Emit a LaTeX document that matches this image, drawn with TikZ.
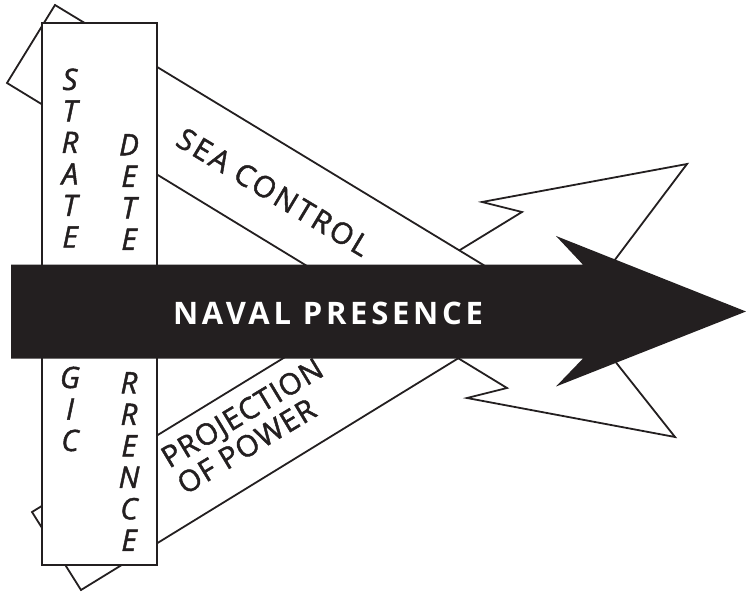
\documentclass[tikz,border=0pt]{standalone}
\usepackage{fontspec}
\setmainfont{Open Sans}
\newfontfamily\labelfont{Open Sans}[FakeBold=1.5]
\definecolor{inkblack}{HTML}{231F20}

\begin{document}
\begin{tikzpicture}[x=1pt,y=-1pt,
  band/.style={draw=inkblack,line width=1.8pt,fill=white,line join=miter},
  bandtext/.style={text=inkblack,font=\labelfont\fontsize{29.5}{31}\selectfont\addfontfeatures{LetterSpace=#1}},
  bandtext/.default=5,
  boxtext/.style={text=inkblack,align=center,font=\labelfont\fontsize{29.5}{31.5}\selectfont\itshape}]
\useasboundingbox (0,0) rectangle (746,593);

% projection of power, coming up from the lower left
\draw[band] (32,512) -- (81,590) -- (475,348) -- (596,285) -- (617,257) -- (687,164) -- (482,202) -- (522,212) -- cycle;
% sea control, coming down from the upper left
\draw[band] (55,5) -- (7,83) -- (507,388) -- (467,398) -- (675,437) -- (618,365) -- (601,343) -- (490,269) -- cycle;

\node[bandtext=9,rotate=-31] (seactl) at (273.5,192) {SEA CONTROL};
\node[bandtext=4,rotate=31,align=left] (projpow) at (250,426) {PROJECTION\\OF POWER};

% the strategic deterrence box
\draw[line width=2pt,draw=inkblack,fill=white] (42,23) rectangle (157,565);
\node[boxtext] (strate) at (70,158) {S\\T\\R\\A\\T\\E};
\node[boxtext] (gic) at (70,409) {G\\I\\C};
\node[boxtext] (dete) at (129,192) {D\\E\\T\\E};
\node[boxtext] (rrence) at (129,461.5) {R\\R\\E\\N\\C\\E};

% naval presence arrow on top
\fill[inkblack] (11,264.7) -- (583,264.7) -- (556,236) -- (746,311.5) -- (556,386.5) -- (583,358.5) -- (11,358.5) -- cycle;
\node[text=white,font=\fontsize{31}{34}\selectfont\bfseries\addfontfeatures{LetterSpace=12}] (navpres) at (328,313) {NAVAL PRESENCE};
\end{tikzpicture}
\end{document}
